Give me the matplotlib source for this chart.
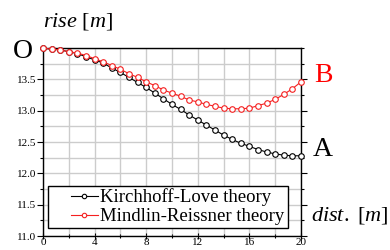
import numpy as np
import matplotlib
matplotlib.use("Agg")
import matplotlib.pyplot as plt
from matplotlib.ticker import MultipleLocator
from matplotlib.legend_handler import HandlerLine2D

plt.rcParams['font.family'] = ['Liberation Serif', 'DejaVu Serif']
plt.rcParams['mathtext.fontset'] = 'custom'
plt.rcParams['mathtext.rm'] = 'Liberation Serif'
plt.rcParams['mathtext.it'] = 'Liberation Serif:italic'

# %% data
dist = np.arange(31) * 2 / 3
kirchhoff = [14.00, 13.98, 13.97, 13.94, 13.91, 13.86, 13.81, 13.76, 13.68, 13.61,
             13.53, 13.45, 13.37, 13.28, 13.19, 13.10, 13.02, 12.93, 12.85, 12.77,
             12.69, 12.61, 12.54, 12.48, 12.43, 12.38, 12.34, 12.31, 12.29, 12.28, 12.28]
mindlin = [14.00, 13.98, 13.97, 13.94, 13.92, 13.88, 13.83, 13.78, 13.72, 13.66,
           13.59, 13.53, 13.46, 13.40, 13.33, 13.28, 13.23, 13.17, 13.14, 13.10,
           13.07, 13.04, 13.03, 13.03, 13.04, 13.08, 13.12, 13.18, 13.26, 13.35, 13.46]
xticks = [0, 4, 8, 12, 16, 20]
yticks = [11.0, 11.5, 12.0, 12.5, 13.0, 13.5]


# %% legend handle with empty room on its left
class ShiftedLine(HandlerLine2D):
    def create_artists(self, legend, orig_handle, xdescent, ydescent, width,
                       height, fontsize, trans):
        shift = 0.42 * width
        return super().create_artists(legend, orig_handle, xdescent - shift,
                                      ydescent, width - shift, height,
                                      fontsize, trans)


# %%
fig = plt.figure(figsize=(3.9, 2.5), dpi=100)
ax = fig.add_axes([43/390, 14/250, 258/390, 188/250])

ax.plot(dist, kirchhoff, '-o', color='black', lw=0.8, ms=4, mfc='white', mew=0.8,
        label='Kirchhoff-Love theory', zorder=3, clip_on=False)
ax.plot(dist, mindlin, '-o', color='#f52020', lw=0.8, ms=4, mfc='white', mew=0.8,
        label='Mindlin-Reissner theory', zorder=4, clip_on=False)

ax.set_xlim(0, 20)
ax.set_ylim(11.0, 14.0)
ax.set_xticks(xticks)
ax.set_yticks(yticks)
ax.set_yticklabels(['%.1f' % v for v in yticks])
ax.xaxis.set_minor_locator(MultipleLocator(2))
ax.yaxis.set_minor_locator(MultipleLocator(0.25))
ax.grid(True, which='both', color='#cccccc', lw=1.0, zorder=0)
ax.set_axisbelow(True)

ax.tick_params(axis='y', which='major', direction='out', length=4, width=0.8,
               labelsize=8, pad=1, right=True)
ax.tick_params(axis='y', which='minor', direction='out', length=2.5, width=0.8, right=True)
ax.tick_params(axis='x', which='major', direction='inout', length=5, width=0.8,
               labelsize=8, pad=-1)
ax.tick_params(axis='x', which='minor', direction='inout', length=3.5, width=0.8)
for s in ax.spines.values():
    s.set_linewidth(1.0)

leg = ax.legend(loc='lower left', bbox_to_anchor=(48/390, 22/250),
                bbox_transform=fig.transFigure, fontsize=13.5, frameon=True,
                fancybox=False, framealpha=1, edgecolor='black', handlelength=2.5,
                handletextpad=0.15, labelspacing=0.1, borderpad=0.15,
                borderaxespad=0, markerscale=0.8,
                handler_map={matplotlib.lines.Line2D: ShiftedLine()})
leg.get_frame().set_linewidth(1.0)

fig.text(43/390, 1 - 22/250, r'$\mathit{rise}\ [\mathit{m}]$', fontsize=16,
         ha='left', va='center')
fig.text(311/390, 1 - 215/250, r'$\mathit{dist}.\ [\mathit{m}]$', fontsize=16,
         ha='left', va='center')
fig.text(23/390, 1 - 51/250, 'O', fontsize=20, ha='center', va='center')
fig.text(323/390, 1 - 150/250, 'A', fontsize=20, ha='center', va='center')
fig.text(323/390, 1 - 75/250, 'B', fontsize=20, ha='center', va='center', color='red')

fig.savefig('out.png', dpi=100)
